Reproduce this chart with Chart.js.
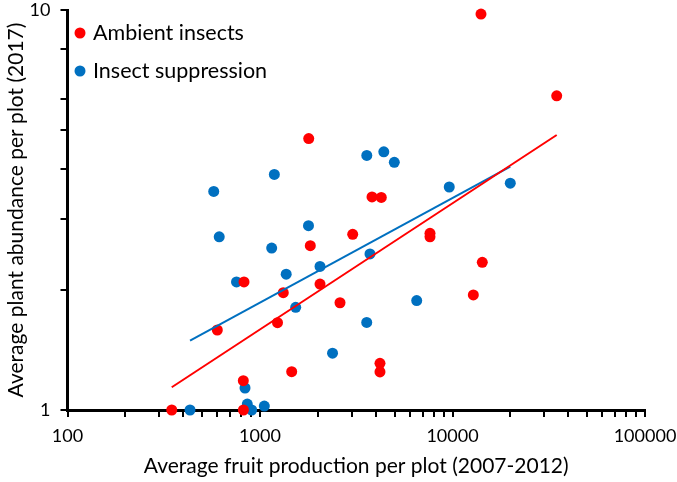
<!DOCTYPE html>
<html>
<head>
<meta charset="utf-8">
<script src="https://cdn.jsdelivr.net/npm/chart.js@4.4.1/dist/chart.umd.min.js"></script>
<style>
  html, body { margin: 0; padding: 0; background: #fff; }
  #wrap { width: 677px; height: 482px; position: relative; }
</style>
</head>
<body>
<div id="wrap"><canvas id="plot"></canvas></div>
<script>
// values
const ambientX = [14060, 34780, 1791, 3819, 4266, 3031, 1825, 826, 1321, 2050, 2604, 600, 1233, 1461, 819, 4200, 4200, 348, 820, 7640, 7640, 14280, 12830];
const ambientY = [9.77, 6.10, 4.77, 3.41, 3.40, 2.75, 2.575, 2.09, 1.965, 2.065, 1.854, 1.585, 1.653, 1.247, 1.184, 1.308, 1.245, 1.0, 1.0, 2.765, 2.71, 2.34, 1.939];

const suppressionX = [575, 1187, 1786, 614, 3587, 4397, 4985, 9620, 19960, 1150, 3727, 2050, 1368, 755, 1533, 3584, 2381, 6517, 836, 859, 905, 1053, 433];
const suppressionY = [3.52, 3.88, 2.89, 2.71, 4.33, 4.42, 4.16, 3.61, 3.69, 2.54, 2.455, 2.285, 2.185, 2.09, 1.806, 1.655, 1.387, 1.878, 1.135, 1.035, 1.0, 1.023, 1.0];

// power trendlines (end points)
const ambientTrendX = [348, 34780];
const ambientTrendY = [1.14, 4.87];
const suppressionTrendX = [433, 19960];
const suppressionTrendY = [1.49, 4.06];

const seriesNames = ["Ambient insects", "Insect suppression"];

const xTickValues = [100, 200, 300, 400, 500, 600, 700, 800, 900,
  1000, 2000, 3000, 4000, 5000, 6000, 7000, 8000, 9000,
  10000, 20000, 30000, 40000, 50000, 60000, 70000, 80000, 90000, 100000];
const xLabelValues = [100, 1000, 10000, 100000];
const xTickLabels = ["100", "1000", "10000", "100000"];

const yTickValues = [1, 2, 3, 4, 5, 6, 8, 10];
const yLabelValues = [1, 10];
const yTickLabels = ["1", "10"];

const xTitle = "Average fruit production per plot (2007-2012)";
const yTitle = "Average plant abundance per plot (2017)";

const RED = "#ff0000";
const BLUE = "#0070c0";
const FONT = "Lato";

function toPoints(xs, ys) {
  return xs.map((x, i) => ({ x: x, y: ys[i] }));
}

// legend sits inside the plot, top left, like the excel one
const insideLegend = {
  id: "insideLegend",
  afterDraw(chart) {
    const { ctx, chartArea } = chart;
    ctx.save();
    ctx.font = "21.5px " + FONT;
    ctx.textBaseline = "middle";
    ctx.textAlign = "left";
    seriesNames.forEach((name, i) => {
      const ds = chart.data.datasets[i];
      const y = chartArea.top + 23 + i * 38;
      ctx.fillStyle = ds.backgroundColor;
      ctx.beginPath();
      ctx.arc(chartArea.left + 12.5, y, 5.5, 0, Math.PI * 2);
      ctx.fill();
      ctx.fillStyle = "#000";
      ctx.fillText(name, chartArea.left + 25.5, y);
    });
    ctx.restore();
  },
};

Chart.defaults.color = "#000";
Chart.defaults.font.family = FONT;

const ctx = document.getElementById("plot");

new Chart(ctx, {
  type: "scatter",
  data: {
    datasets: [
      {
        label: seriesNames[0],
        data: toPoints(ambientX, ambientY),
        backgroundColor: RED,
        borderColor: RED,
        borderWidth: 0,
        pointRadius: 5.5,
        pointHoverRadius: 5.5,
        clip: false,
        order: 1,
      },
      {
        label: seriesNames[1],
        data: toPoints(suppressionX, suppressionY),
        backgroundColor: BLUE,
        borderColor: BLUE,
        borderWidth: 0,
        pointRadius: 5.5,
        pointHoverRadius: 5.5,
        clip: false,
        order: 1,
      },
      {
        label: "trend ambient",
        type: "line",
        data: toPoints(ambientTrendX, ambientTrendY),
        borderColor: RED,
        borderWidth: 2,
        pointRadius: 0,
        fill: false,
        order: 0,
      },
      {
        label: "trend suppression",
        type: "line",
        data: toPoints(suppressionTrendX, suppressionTrendY),
        borderColor: BLUE,
        borderWidth: 2,
        pointRadius: 0,
        fill: false,
        order: 0,
      },
    ],
  },
  options: {
    responsive: true,
    maintainAspectRatio: false,
    animation: false,
    layout: { padding: { top: 10, right: 32, bottom: 0, left: 0 } },
    plugins: {
      tooltip: { enabled: false },
      legend: { display: false },
    },
    scales: {
      x: {
        type: "logarithmic",
        position: "bottom",
        min: 100,
        max: 100000,
        afterBuildTicks: (scale) => {
          scale.ticks = xTickValues.map((v) => ({ value: v }));
        },
        afterFit: (scale) => {
          scale.height = 72;
          scale.paddingLeft = 0;
          scale.paddingRight = 0;
        },
        ticks: {
          autoSkip: false,
          maxRotation: 0,
          padding: 8,
          font: { size: 18 },
          callback: (value) => {
            const i = xLabelValues.indexOf(value);
            return i >= 0 ? xTickLabels[i] : "";
          },
        },
        grid: {
          drawOnChartArea: false,
          drawTicks: true,
          tickLength: 7,
          color: "#000",
          lineWidth: 2,
        },
        border: { display: true, color: "#000", width: 3 },
        title: {
          display: true,
          text: xTitle,
          font: { size: 21 },
          padding: { top: 0, bottom: 3 },
        },
      },
      y: {
        type: "logarithmic",
        min: 1,
        max: 10,
        afterBuildTicks: (scale) => {
          scale.ticks = yTickValues.map((v) => ({ value: v }));
        },
        afterFit: (scale) => {
          scale.width = 67.5;
          scale.paddingTop = 0;
          scale.paddingBottom = 0;
        },
        ticks: {
          autoSkip: false,
          padding: 10,
          font: { size: 18 },
          callback: (value) => {
            const i = yLabelValues.indexOf(value);
            return i >= 0 ? yTickLabels[i] : "";
          },
        },
        grid: {
          drawOnChartArea: false,
          drawTicks: true,
          tickLength: 7,
          color: "#000",
          lineWidth: 2,
        },
        border: { display: true, color: "#000", width: 3 },
        title: {
          display: true,
          text: yTitle,
          font: { size: 21 },
          padding: { top: 4, bottom: 0 },
        },
      },
    },
  },
  plugins: [insideLegend],
});
</script>
</body>
</html>
